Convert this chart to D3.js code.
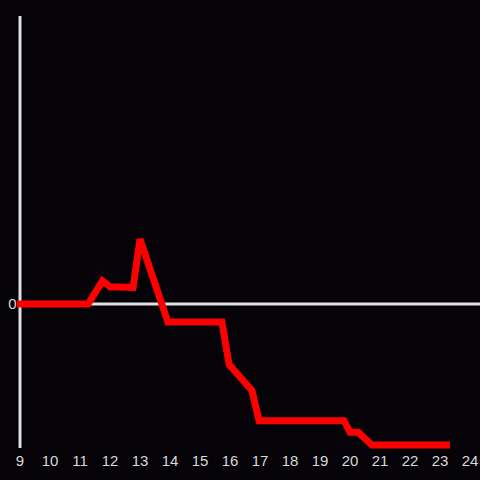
<!DOCTYPE html>
<html><head><meta charset="utf-8">
<script src="https://cdn.jsdelivr.net/npm/d3@7"></script>
<style>html,body{margin:0;padding:0;background:#050307;}</style>
</head><body>
<script>
const xs = [8.9, 11.27, 11.75, 12.0, 12.77, 13.0, 13.93, 15.73, 15.97, 16.73, 16.97, 19.8, 20.0, 20.27, 20.73, 23.33];
const ys = [0, 0, 0.16, 0.12, 0.115, 0.45, -0.125, -0.125, -0.42, -0.6, -0.81, -0.81, -0.89, -0.89, -0.98, -0.98];
const xTicks = [9,10,11,12,13,14,15,16,17,18,19,20,21,22,23,24];
const yTicks = [0];

const W = 480, H = 480;
const svg = d3.select("body").append("svg").attr("width", W).attr("height", H)
  .style("background", "#050307");
const x = d3.scaleLinear().domain([9, 24]).range([20, 470]);
const y = d3.scaleLinear().domain([-1, 2]).range([448, 16]);

svg.append("line").attr("x1", x(9)).attr("x2", x(9)).attr("y1", y(2)).attr("y2", y(-1))
  .attr("stroke", "#e0e0e0").attr("stroke-width", 3);
svg.selectAll(".zl").data(yTicks).enter().append("line")
  .attr("x1", x(9)).attr("x2", W).attr("y1", d => y(d)).attr("y2", d => y(d))
  .attr("stroke", "#e0e0e0").attr("stroke-width", 3);
svg.selectAll(".yl").data(yTicks).enter().append("text")
  .attr("x", 16.5).attr("y", d => y(d)).attr("dy", "0.35em").attr("text-anchor", "end")
  .attr("fill", "#d8d8d8").attr("font-family", "Liberation Sans, Arial, sans-serif").attr("font-size", 15)
  .text(d => d);
svg.selectAll(".xl").data(xTicks).enter().append("text")
  .attr("x", d => x(d)).attr("y", 466).attr("text-anchor", "middle")
  .attr("fill", "#d8d8d8").attr("font-family", "Liberation Sans, Arial, sans-serif").attr("font-size", 15)
  .text(d => d);

const data = xs.map((v, i) => [v, ys[i]]);
svg.append("path").datum(data)
  .attr("d", d3.line().x(d => x(d[0])).y(d => y(d[1])))
  .attr("fill", "none").attr("stroke", "#ff0000").attr("stroke-width", 7)
  .attr("stroke-linejoin", "miter");
</script>
</body></html>
